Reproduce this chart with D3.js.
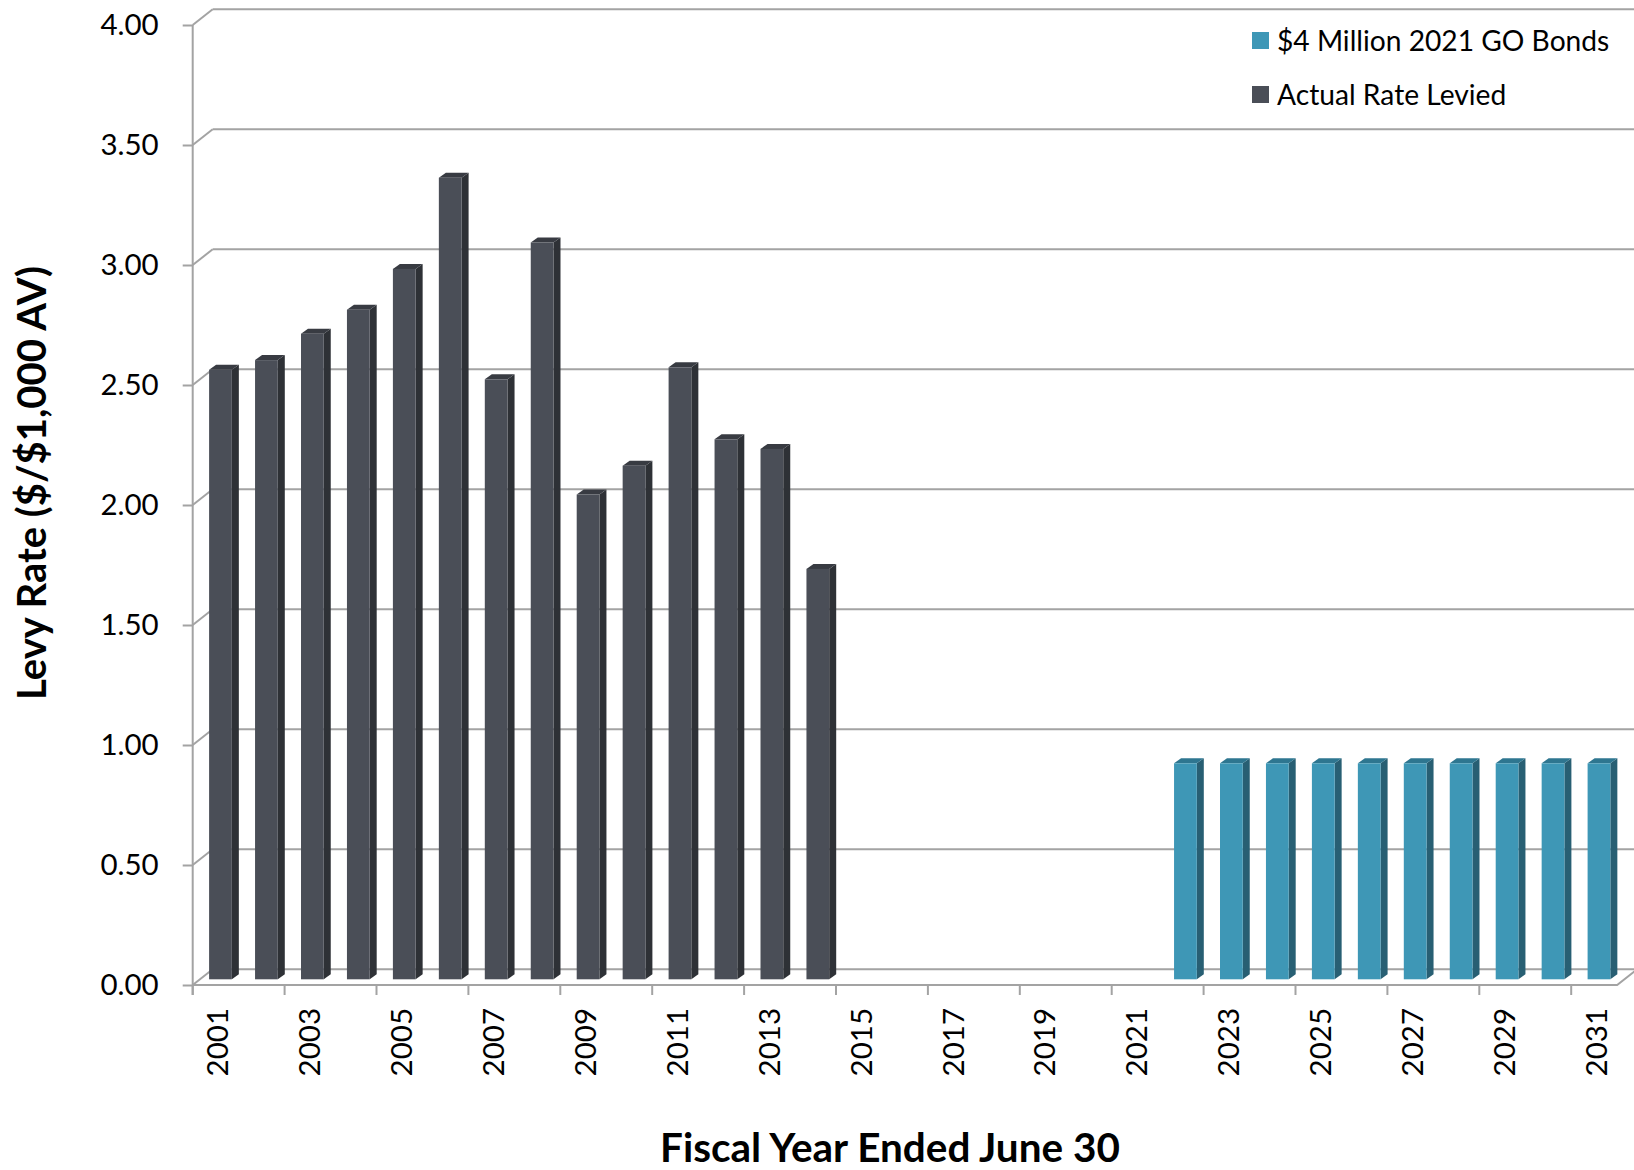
<!DOCTYPE html>
<html>
<head>
<meta charset="utf-8">
<script src="https://cdn.jsdelivr.net/npm/d3@7"></script>
<style>
  html, body { margin: 0; padding: 0; background: #ffffff; }
  svg { display: block; }
  text { font-family: Lato, "Noto Sans", sans-serif; fill: #000; }
</style>
</head>
<body>
<svg id="chart" width="1634" height="1170"></svg>
<script>
// ---------------- data ----------------
const years = d3.range(2001, 2032).map(String);
const actualYears = ["2001","2002","2003","2004","2005","2006","2007","2008","2009","2010","2011","2012","2013","2014"];
const actualValues = [2.54, 2.58, 2.69, 2.79, 2.96, 3.34, 2.50, 3.07, 2.02, 2.14, 2.55, 2.25, 2.21, 1.71];
const bondYears = ["2022","2023","2024","2025","2026","2027","2028","2029","2030","2031"];
const bondValues = [0.90, 0.90, 0.90, 0.90, 0.90, 0.90, 0.90, 0.90, 0.90, 0.90];
const yTicks = [0, 0.5, 1, 1.5, 2, 2.5, 3, 3.5, 4];
const xLabelYears = years.filter((d, i) => i % 2 === 0);
const seriesNames = ["$4 Million 2021 GO Bonds", "Actual Rate Levied"];
const yTitle = "Levy Rate ($/$1,000 AV)";
const xTitle = "Fiscal Year Ended June 30";

// ---------------- layout ----------------
const svg = d3.select("#chart");
const X0 = 192.7, STEP = 45.95, X1 = X0 + years.length * STEP;
const Y0 = 985, Y4 = 25;            // front plane of value axis
const WDX = 20, WDY = -15.7;         // depth of walls / floor
const BDX = 4.8, BDY = -5.7;         // position of bar front face within depth
const DDX = 7, DDY = -5;             // bar depth
const GRID = "#a3a3a3";

const x = d3.scaleBand().domain(years).range([X0, X1]).padding(0);
const y = d3.scaleLinear().domain([0, 4]).range([Y0, Y4]);
const barW = x.bandwidth() * 0.495;

const colors = {
  actual: { front: "#4a4e57", side: "#2e3136", top: "#383b42" },
  bond:   { front: "#3e97b6", side: "#285f73", top: "#2e7690" }
};

// back wall gridlines + left wall diagonals
const gGrid = svg.append("g");
yTicks.forEach(v => {
  if (v > 0) {
    gGrid.append("line")
      .attr("x1", X0 + WDX).attr("x2", X1 + WDX)
      .attr("y1", y(v) + WDY).attr("y2", y(v) + WDY)
      .attr("stroke", GRID).attr("stroke-width", 2);
  }
  gGrid.append("line")
    .attr("x1", X0).attr("y1", y(v))
    .attr("x2", X0 + WDX).attr("y2", y(v) + WDY)
    .attr("stroke", GRID).attr("stroke-width", 2);
});
// floor
gGrid.append("path")
  .attr("d", `M${X0 + WDX},${y(0) + WDY} L${X1 + WDX},${y(0) + WDY} L${X1},${y(0)} L${X0},${y(0)}`)
  .attr("fill", "none").attr("stroke", GRID).attr("stroke-width", 2);

// value axis (front)
const yAxis = d3.axisLeft(y).tickValues(yTicks).tickFormat(d3.format(".2f")).tickSize(10).tickPadding(24);
const gy = svg.append("g").attr("transform", `translate(${X0},0)`).call(yAxis);
gy.select(".domain").attr("stroke", GRID).attr("stroke-width", 2).attr("d", `M0,${Y4}V${Y0 + 10}`);
gy.selectAll(".tick line").attr("stroke", GRID).attr("stroke-width", 2);
gy.selectAll(".tick text").attr("font-size", 29.5).attr("font-family", "Lato").attr("fill", "#000");

// category axis ticks
const gx = svg.append("g");
d3.range(0, years.length, 2).forEach(i => {
  const xx = x(years[i]);
  gx.append("line").attr("x1", xx).attr("x2", xx).attr("y1", Y0).attr("y2", Y0 + 10)
    .attr("stroke", GRID).attr("stroke-width", 2);
});
gx.selectAll("text.xl").data(xLabelYears).join("text")
  .attr("class", "xl")
  .attr("transform", d => `translate(${x(d) + x.bandwidth() / 2 + 2},${Y0 + 23}) rotate(-90)`)
  .attr("text-anchor", "end").attr("dy", "0.36em")
  .attr("font-size", 29.5)
  .text(d => d);

// bars
function drawBars(cls, yrs, vals, c) {
  const data = yrs.map((d, i) => ({ year: d, value: vals[i] }));
  const g = svg.append("g").attr("class", cls);
  const bar = g.selectAll("g").data(data).join("g");
  const geom = d => {
    const l = x(d.year) + (x.bandwidth() - barW) / 2 + BDX;
    const r = l + barW;
    const t = y(d.value) + BDY;
    const b = y(0) + BDY;
    return { l, r, t, b };
  };
  bar.append("path").attr("fill", c.side).attr("d", d => {
    const q = geom(d);
    return `M${q.r},${q.b} L${q.r + DDX},${q.b + DDY} L${q.r + DDX},${q.t + DDY} L${q.r},${q.t}Z`;
  });
  bar.append("path").attr("fill", c.top).attr("d", d => {
    const q = geom(d);
    return `M${q.l},${q.t} L${q.l + DDX},${q.t + DDY} L${q.r + DDX},${q.t + DDY} L${q.r},${q.t}Z`;
  });
  bar.append("rect").attr("fill", c.front)
    .attr("x", d => geom(d).l).attr("y", d => geom(d).t)
    .attr("width", barW).attr("height", d => geom(d).b - geom(d).t);
}
drawBars("actual", actualYears, actualValues, colors.actual);
drawBars("bond", bondYears, bondValues, colors.bond);

// legend
const legend = svg.append("g").attr("transform", "translate(1252,32)");
const legColors = [colors.bond.front, colors.actual.front];
seriesNames.forEach((name, i) => {
  const gi = legend.append("g").attr("transform", `translate(0,${i * 54})`);
  gi.append("rect").attr("width", 17).attr("height", 17).attr("fill", legColors[i]);
  gi.append("text").attr("x", 25).attr("y", 8.5).attr("dy", "0.36em")
    .attr("font-size", 28.2).text(name);
});

// titles
function fit(sel, target) {
  const w = sel.node().getComputedTextLength();
  const fs = parseFloat(sel.attr("font-size"));
  sel.attr("font-size", fs * target / w);
}
const xt = svg.append("text").attr("x", 890).attr("y", 1162)
  .attr("text-anchor", "middle").attr("font-weight", "bold").attr("font-size", 34).text(xTitle);
fit(xt, 460);
const yt = svg.append("text").attr("transform", "translate(46,483) rotate(-90)")
  .attr("text-anchor", "middle").attr("font-weight", "bold").attr("font-size", 34).text(yTitle);
fit(yt, 434);
</script>
</body>
</html>
